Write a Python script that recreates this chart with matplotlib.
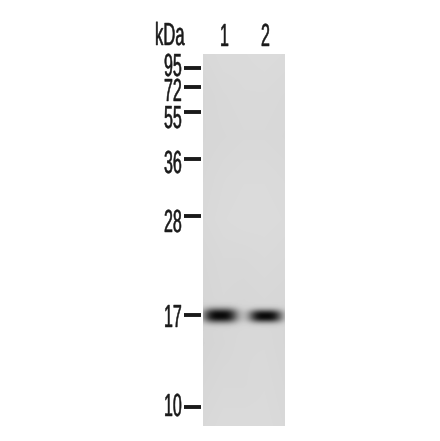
import numpy as np
import matplotlib
matplotlib.use("Agg")
import matplotlib.pyplot as plt
from matplotlib.patheffects import AbstractPathEffect
from matplotlib.transforms import Affine2D

marker_labels = ["95", "72", "55", "36", "28", "17", "10"]
marker_rows = [68, 87, 112, 159, 216, 315, 407]
marker_label_rows = [68, 93, 120, 165, 224, 319, 408]
lane_labels = ["1", "2"]
lane_label_cols = [220, 261]
unit_label = "kDa"

band_cols = [220.5, 265.5]
band_rows = [315.5, 316]
band_half_widths = [17, 16.5]
band_half_heights = [7.2, 6.4]
band_strengths = [205, 205]

# coarse grey levels of the membrane, top to bottom / left to right
membrane_levels = [
    [216, 218, 218, 219, 218],
    [214, 216, 217, 217, 216],
    [214, 215, 216, 216, 215],
    [215, 217, 218, 218, 217],
    [216, 218, 219, 219, 218],
    [214, 216, 216, 217, 216],
    [213, 215, 214, 215, 214],
    [212, 214, 216, 216, 214],
    [214, 216, 216, 217, 215],
    [216, 218, 218, 218, 216],
]


class Squeeze(AbstractPathEffect):
    def __init__(self, sx=1.0, stroke=0.35):
        super().__init__()
        self.sx = sx
        self.stroke = stroke

    def draw_path(self, renderer, gc, tpath, affine, rgbFace=None):
        gc0 = renderer.new_gc()
        gc0.copy_properties(gc)
        gc0.set_foreground(rgbFace)
        gc0.set_linewidth(self.stroke)
        renderer.draw_path(gc0, tpath, Affine2D().scale(self.sx, 1.0) + affine, rgbFace)
        gc0.restore()


fig = plt.figure(figsize=(4.40, 4.41), dpi=100)
ax = fig.add_axes([0, 0, 1, 1])
ax.set_xlim(0, 440)
ax.set_ylim(441, 0)
ax.axis("off")

gel_x0, gel_x1, gel_y0, gel_y1 = 203, 285, 54, 426
ys, xs = np.mgrid[gel_y0:gel_y1, gel_x0:gel_x1] + 0.5
lv = np.array(membrane_levels, float)
gy = np.linspace(gel_y0, gel_y1, lv.shape[0])
gx = np.linspace(gel_x0, gel_x1, lv.shape[1])
rows = np.array([np.interp(xs[0], gx, r) for r in lv])
img = np.array([np.interp(ys[:, 0], gy, rows[:, j]) for j in range(rows.shape[1])]).T
for c, r, hw, hh, s in zip(band_cols, band_rows, band_half_widths,
                           band_half_heights, band_strengths):
    d = ((np.abs(xs - c) / hw) ** 3 + (np.abs(ys - r) / hh) ** 2.4)
    img -= s * np.exp(-d)
ax.imshow(np.clip(img, 0, 255), cmap="gray", vmin=0, vmax=255, aspect="auto",
          extent=(gel_x0, gel_x1, gel_y1, gel_y0), interpolation="bilinear", zorder=1)

ink = "#1a1a1a"
for lab, r, lr in zip(marker_labels, marker_rows, marker_label_rows):
    ax.plot([184, 201], [r, r], color=ink, lw=2.8, solid_capstyle="butt", zorder=2)
    ax.text(164, lr, lab, fontsize=23, color=ink,
            family="Liberation Sans", ha="left", va="center",
            path_effects=[Squeeze(0.5)], zorder=3)

for lab, c in zip(lane_labels, lane_label_cols):
    ax.text(c, 38, lab, fontsize=23, color=ink, family="Liberation Sans",
            ha="left", va="center", path_effects=[Squeeze(0.5)], zorder=3)

ax.text(155, 37, unit_label, fontsize=23, color=ink, family="Liberation Sans",
        ha="left", va="center", path_effects=[Squeeze(0.52)], zorder=3)

fig.savefig("out.png", dpi=100, facecolor="white")
